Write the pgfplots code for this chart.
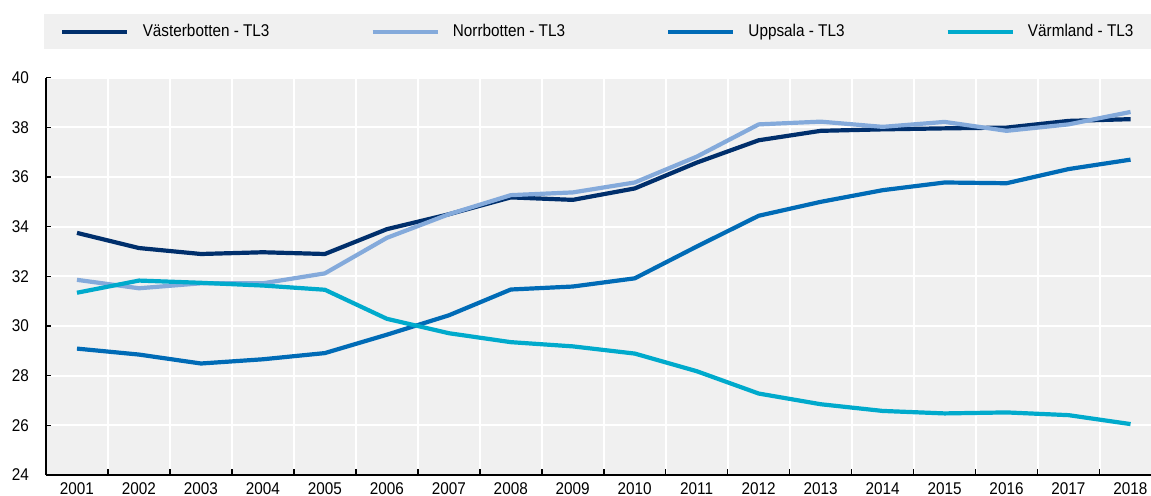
\documentclass[border=0pt]{standalone}
\usepackage{fontspec}
\setmainfont{Liberation Sans}[FakeStretch=0.9]
\usepackage{pgfplots}
\pgfplotsset{compat=1.18}
\usetikzlibrary{backgrounds}
\definecolor{cVb}{HTML}{002F6C}
\definecolor{cNb}{HTML}{84AADB}
\definecolor{cUp}{HTML}{006BB6}
\definecolor{cVm}{HTML}{00AACC}
\definecolor{bgc}{HTML}{F0F0F0}
\begin{document}
\begin{tikzpicture}
\useasboundingbox (-23bp,-10.5bp) rectangle (552.5bp,237.5bp);
\fill[bgc] (-1bp,213bp) rectangle (552.5bp,230.5bp);
\begin{axis}[
  at={(0,0)}, anchor=south west,
  scale only axis,
  width=552.5bp, height=198.65bp,
  xmin=2000.5, xmax=2018.33,
  ymin=24, ymax=40,
  axis lines*=left,
  axis line style={line width=0.75bp, black},
  axis background/.style={fill=bgc},
  font=\fontsize{8.5bp}{10bp}\selectfont,
  /pgf/number format/assume math mode=true,
  xtick={2001,...,2018},
  xticklabels={2001,2002,2003,2004,2005,2006,2007,2008,2009,2010,2011,2012,2013,2014,2015,2016,2017,2018},
  minor xtick={2001.5,2002.5,...,2017.5},
  ytick={24,26,...,40},
  tick align=inside,
  major x tick style={draw=none},
  minor x tick style={line width=0.75bp, black},
  minor tick length=2.8bp,
  major tick length=2.3bp,
  y tick style={line width=0.75bp, black},
  xminorgrids=true, ymajorgrids=true,
  minor grid style={white, line width=1bp},
  major grid style={white, line width=1bp},
  yticklabel style={xshift=-5bp},
  xticklabel style={yshift=-0.5bp},
  legend columns=4,
  legend style={at={(axis description cs:0,1)}, anchor=west, xshift=7bp, yshift=23bp,
    draw=none, fill=none, inner sep=0pt, font=\fontsize{8.5bp}{10bp}\selectfont,
    /tikz/every odd column/.append style={column sep=4.6bp},
    /tikz/every even column/.append style={column sep=48.5bp}},
  legend image code/.code={\draw[#1] (0bp,0bp) -- (32.5bp,0bp);},
  every axis plot/.append style={line width=2.1bp, line join=round},
]
\addplot[cVb] coordinates {(2001,33.75)(2002,33.14)(2003,32.90)(2004,32.97)(2005,32.90)(2006,33.90)(2007,34.50)(2008,35.18)(2009,35.08)(2010,35.54)(2011,36.58)(2012,37.48)(2013,37.86)(2014,37.92)(2015,37.96)(2016,37.99)(2017,38.26)(2018,38.33)};
\addlegendentry{Västerbotten - TL3}
\addplot[cNb] coordinates {(2001,31.86)(2002,31.52)(2003,31.72)(2004,31.72)(2005,32.12)(2006,33.55)(2007,34.50)(2008,35.27)(2009,35.38)(2010,35.78)(2011,36.82)(2012,38.12)(2013,38.23)(2014,38.02)(2015,38.22)(2016,37.86)(2017,38.12)(2018,38.62)};
\addlegendentry{Norrbotten - TL3}
\addplot[cUp] coordinates {(2001,29.09)(2002,28.85)(2003,28.49)(2004,28.66)(2005,28.91)(2006,29.65)(2007,30.43)(2008,31.47)(2009,31.59)(2010,31.92)(2011,33.20)(2012,34.44)(2013,35.00)(2014,35.47)(2015,35.78)(2016,35.75)(2017,36.32)(2018,36.70)};
\addlegendentry{Uppsala - TL3}
\addplot[cVm] coordinates {(2001,31.34)(2002,31.83)(2003,31.74)(2004,31.63)(2005,31.46)(2006,30.29)(2007,29.71)(2008,29.35)(2009,29.18)(2010,28.89)(2011,28.18)(2012,27.28)(2013,26.85)(2014,26.58)(2015,26.48)(2016,26.52)(2017,26.41)(2018,26.05)};
\addlegendentry{Värmland - TL3}
\end{axis}
\end{tikzpicture}
\end{document}
